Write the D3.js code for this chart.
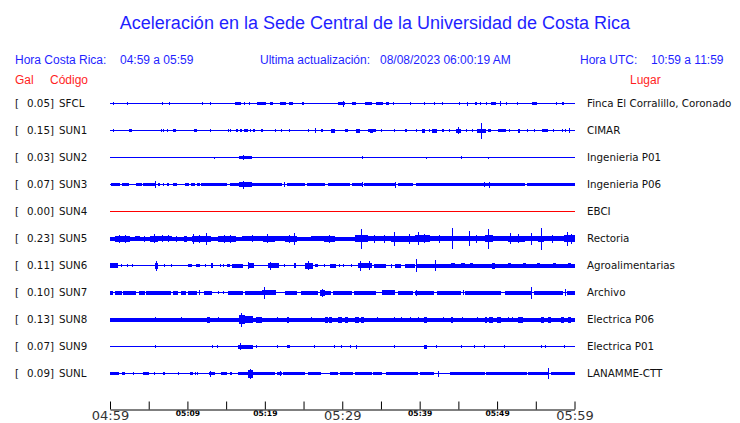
<!DOCTYPE html>
<html><head><meta charset="utf-8">
<script src="https://cdn.jsdelivr.net/npm/d3@7"></script>
<style>body{margin:0;background:#fff}svg{display:block}</style>
</head><body><svg id="c" width="740" height="423"></svg>
<script>
// ---- data ----
const codes = ["SFCL","SUN1","SUN2","SUN3","SUN4","SUN5","SUN6","SUN7","SUN8","SUN9","SUNL"];
const galValues = [0.05,0.15,0.03,0.07,0.00,0.23,0.11,0.10,0.13,0.07,0.09];
const places = ["Finca El Corralillo, Coronado","CIMAR","Ingenieria P01","Ingenieria P06","EBCI","Rectoria","Agroalimentarias","Archivo","Electrica P06","Electrica P01","LANAMME-CTT"];
const tickTimes = ["04:59","05:04","05:09","05:14","05:19","05:24","05:29","05:34","05:39","05:44","05:49","05:54","05:59"];
const tickLabels = ["04:59","","05:09","","05:19","","05:29","","05:39","","05:49","","05:59"];
const bigTickLabels = ["04:59","05:29","05:59"];
const headerLeft = ["Hora Costa Rica:","04:59 a 05:59"];
const headerMid = ["Ultima actualización:","08/08/2023 06:00:19 AM"];
const headerRight = ["Hora UTC:","10:59 a 11:59"];
// bursts per station: [start minute, end minute, peak-to-peak amplitude]
const sfcl = [[0.4,0.4,3],[2.2,2.2,3],[6.8,6.8,3],[7.7,7.7,3],[12.0,12.0,3],[13.0,13.0,3],[16.1,16.9,3],[17.3,17.5,3],[17.9,18.0,3],[19.0,20.1,3],[20.7,21.0,3],[22.0,22.7,3],[23.1,23.6,3],[24.8,25.1,3],[29.5,30.4,3],[30.2,30.2,6],[31.2,31.8,3],[32.9,33.8,3],[34.4,35.3,3],[35.7,36.0,3],[36.6,36.6,3],[38.8,38.8,3],[40.6,40.6,3],[41.8,42.0,3],[43.0,43.0,3],[45.2,45.2,3],[46.1,46.3,4],[47.1,47.4,3],[47.9,47.9,3],[48.6,48.6,3],[49.2,49.9,3],[50.5,50.5,5],[51.2,51.2,3],[52.7,52.7,3],[54.5,55.1,3],[57.7,57.7,3],[58.4,58.6,3]];
const sun1 = [[0.4,0.4,3],[2.4,2.8,3],[6.7,6.7,3],[6.9,6.9,3],[7.4,7.4,3],[8.2,8.5,3],[10.9,11.3,3],[13.0,13.0,3],[15.3,15.3,3],[15.6,15.6,3],[16.3,16.5,3],[16.8,17.0,3],[17.3,17.8,3],[18.1,18.1,3],[18.5,18.7,3],[19.5,19.8,3],[21.4,21.4,3],[22.1,22.1,3],[23.2,23.2,3],[25.7,25.7,3],[26.5,26.5,5],[27.3,27.5,3],[28.5,29.0,4],[30.4,30.7,3],[31.8,32.3,4],[33.3,34.4,3],[33.6,34.0,4],[35.1,35.1,3],[36.8,36.8,3],[38.1,38.4,3],[39.6,39.6,3],[40.3,40.7,4],[41.3,41.3,3],[41.6,42.3,4],[42.9,43.1,3],[43.9,43.9,3],[44.7,45.4,4],[45.0,45.0,7],[46.1,46.1,3],[46.8,46.8,3],[47.4,48.6,4],[48.0,48.0,16],[48.8,49.2,3],[50.1,51.2,3],[51.6,51.6,3],[52.7,53.0,4],[53.9,53.9,3],[54.8,54.8,3],[55.8,56.6,3],[57.2,57.4,3],[58.4,58.4,3],[58.9,58.9,3],[59.4,59.4,5]];
const sun2 = [[13.5,13.5,2],[16.6,18.4,3],[17.3,17.3,5],[32.6,32.6,3],[40.9,40.9,2],[45.4,45.4,3],[48.9,48.9,2]];
const sun3 = [[0.1,1.3,3],[1.6,1.9,3],[2.0,2.5,3],[3.3,4.1,3],[4.3,5.9,3],[5.9,5.9,7],[6.2,6.4,3],[6.8,7.0,3],[7.4,7.6,3],[8.2,8.7,3],[9.7,10.2,3],[10.5,11.0,3],[11.3,11.6,3],[11.8,15.1,3],[15.5,22.2,3],[16.6,18.3,5],[17.3,17.3,8],[22.6,22.6,5],[22.8,25.2,3],[25.4,27.8,3],[28.1,31.0,3],[31.3,32.5,3],[32.6,32.6,5],[32.8,36.8,3],[36.9,36.9,6],[37.2,39.1,3],[39.5,53.6,3],[48.4,48.4,5],[49.0,49.0,6],[53.9,60,3]];
const sun4 = [];
const sun5 = [[0,0.65,4],[0.65,2.6,6],[1.2,1.2,8],[2.0,2.0,8],[2.6,3.2,4],[3.2,3.9,5],[3.9,5.2,4],[4.5,4.5,6],[5.2,6.2,6],[5.8,5.8,9],[6.2,8.0,5],[6.8,6.8,7],[7.5,7.5,7],[8.0,9.5,4],[8.6,8.6,6],[9.5,10.0,6],[10.0,10.6,4],[10.75,10.75,10],[10.6,13.1,6],[11.5,11.5,8],[12.5,12.5,12],[13.1,14.0,4],[14.0,16.3,6],[14.8,14.8,8],[15.6,15.6,8],[16.3,17.0,4],[17.0,19.8,5],[18.4,18.4,7],[19.8,21.3,6],[20.4,20.4,9],[21.3,22.6,5],[22.6,24.1,6],[23.2,23.2,8],[23.8,23.8,12],[24.1,26.0,4],[26.0,27.7,5],[27.7,29.0,6],[28.3,28.3,8],[29.0,31.6,4],[31.6,33.3,7],[32.5,32.5,20],[33.3,36.3,5],[34.2,34.2,8],[35.4,35.4,8],[36.3,37.2,6],[36.8,36.8,14],[37.2,39.4,6],[38.7,38.7,10],[39.4,41.3,7],[39.8,39.8,13],[40.6,40.6,9],[41.3,44.1,5],[42.5,42.5,8],[44.3,44.3,21],[44.1,46.2,5],[46.4,46.4,15],[46.2,48.4,5],[47.3,47.3,8],[48.4,49.5,7],[48.95,48.95,20],[49.5,51.4,5],[51.4,53.6,6],[51.7,51.7,11],[52.8,52.8,9],[53.6,55.3,5],[54.4,54.4,12],[55.3,56.1,6],[55.7,55.7,22],[56.1,58.7,5],[57.2,57.2,8],[58.7,60,7],[59.05,59.05,14],[59.6,59.6,10]];
const sun6 = [[0,1.0,5],[1.5,1.5,3],[2.2,2.2,3],[2.9,2.9,3],[5.8,6.2,6],[6.06,6.06,10],[7.0,7.0,3],[8.0,8.0,3],[10.1,10.6,3],[11.05,11.6,3],[12.3,12.3,3],[13.0,13.3,5],[14.3,14.3,3],[14.6,14.6,3],[15.1,15.5,3],[15.7,17.2,4],[17.8,18.6,5],[17.9,17.9,7],[20.4,21.8,5],[20.7,20.7,8],[22.6,22.6,3],[23.8,24.0,5],[25.2,26.2,6],[25.7,25.7,9],[26.5,26.9,3],[27.7,27.7,3],[28.4,29.2,4],[29.7,29.7,3],[30.2,30.2,3],[31.2,31.2,3],[32.0,33.8,5],[32.3,32.3,10],[33.5,33.5,9],[34.1,35.7,4],[36.3,36.3,4],[36.8,37.6,4],[38.1,39.4,4],[39.6,39.6,13],[39.5,42.0,4],[42.0,42.0,11],[42.1,60,4],[44.1,44.5,5],[45.4,45.8,5],[46.5,46.9,5],[49.3,49.7,6],[51.4,51.8,5],[53.3,53.7,5],[55.1,55.5,5],[57.2,57.6,5],[59.2,59.6,5]];
const sun7 = [[0,0.4,4],[0.6,1.5,4],[1.7,3.4,4],[3.7,4.5,4],[4.7,7.9,4],[8.2,8.8,4],[9.2,9.8,4],[10.1,11.2,4],[11.6,11.6,5],[12.2,13.2,4],[14.0,14.1,3],[14.6,14.7,3],[15.3,17.2,4],[17.4,19.6,4],[19.6,21.4,5],[19.9,19.9,12],[22.6,24.2,4],[24.7,26.9,4],[27.1,27.8,6],[27.4,27.4,8],[27.8,28.6,4],[28.8,31.2,4],[31.5,34.4,4],[35.1,36.8,5],[37.2,39.1,4],[39.4,41.9,4],[39.6,39.6,6],[42.2,45.4,4],[45.6,45.6,5],[45.8,50.5,4],[51.0,54.4,4],[54.5,54.5,12],[54.8,58.5,4],[58.8,58.8,7],[59.0,60,4]];
const sun8 = [[0,60,4],[5.9,5.9,5],[9.2,9.2,5],[12.5,12.9,6],[14.0,14.0,5],[16.6,17.4,9],[17.0,17.0,14],[17.4,18.5,7],[18.9,19.6,6],[21.7,21.7,5],[22.8,23.1,6],[26.0,26.0,5],[27.8,28.1,6],[28.3,28.7,6],[29.5,30.0,6],[30.3,30.7,6],[31.7,32.1,6],[32.4,32.8,6],[34.6,34.6,5],[36.7,36.7,5],[37.6,37.6,5],[38.8,38.8,5],[39.8,39.8,5],[40.6,40.9,6],[43.1,43.1,5],[44.1,44.3,6],[45.5,45.5,5],[47.5,47.5,5],[48.4,48.7,6],[49.0,49.5,6],[50.0,50.5,6],[51.5,51.5,5],[52.0,52.0,5],[52.7,53.3,6],[55.7,56.0,6],[56.6,57.0,6],[58.3,58.7,6],[59.1,59.5,6]];
const sun9 = [[5.9,5.9,3],[13.2,13.2,3],[13.9,13.9,3],[16.5,18.5,4],[16.8,16.8,7],[18.9,18.9,3],[21.7,21.7,3],[22.9,23.2,3],[26.4,26.4,3],[29.0,29.0,3],[29.9,29.9,3],[31.1,31.1,3],[31.8,31.8,4],[36.7,36.7,3],[40.6,40.9,4],[42.2,42.2,3],[45.4,45.4,3],[47.1,47.1,3],[48.4,48.4,3],[51.0,51.0,3],[55.7,55.7,3],[56.3,56.3,3],[58.7,58.7,3]];
const sunl = [[0,1.1,3],[1.5,1.9,3],[3.1,3.1,3],[4.2,5.0,3],[5.8,5.8,3],[6.8,7.1,3],[8.9,8.9,3],[10.3,10.7,3],[11.0,11.0,3],[11.3,11.3,3],[12.8,13.6,3],[13.0,13.0,6],[14.3,15.1,3],[15.5,15.8,3],[16.5,21.3,3],[17.8,18.5,8],[18.1,18.1,10],[21.6,22.2,3],[22.0,22.0,5],[22.4,25.2,3],[25.6,27.3,3],[28.4,29.5,3],[29.7,31.4,3],[31.6,33.8,3],[34.0,35.1,3],[35.7,39.8,3],[40.0,41.9,3],[42.4,42.4,6],[43.9,48.4,3],[48.6,53.8,3],[54.0,56.6,3],[56.7,56.7,11],[57.0,60,3]];
const traces = [sfcl,sun1,sun2,sun3,sun4,sun5,sun6,sun7,sun8,sun9,sunl];
const traceColors = codes.map(c => c === "SUN4" ? "#ff0000" : "#0000ff");

// ---- drawing ----
const svg = d3.select("#c");
const BLUE = "#1f1fff", RED = "#ff1f1f";
const parse = d3.timeParse("%H:%M");
const t0 = parse(tickTimes[0]);
const x = d3.scaleTime().domain([t0, parse(tickTimes[tickTimes.length-1])]).range([110, 574.5]);
const xm = m => x(new Date(t0.getTime() + m * 60000));
const y = d3.scalePoint().domain(codes).range([103.5, 373.5]);
const amp = d3.scaleLinear().domain([0, 20]).range([0, 20]);

svg.append("text").attr("x", 375).attr("y", 29).attr("text-anchor","middle")
  .attr("font-family","Liberation Sans, Arial, sans-serif").attr("font-size",18).attr("fill",BLUE)
  .text("Aceleración en la Sede Central de la Universidad de Costa Rica");

const hdr = svg.append("g").attr("font-family","Liberation Sans, Arial, sans-serif").attr("font-size",12);
[[15,headerLeft[0]],[120,headerLeft[1]],[260,headerMid[0]],[380,headerMid[1]],[580,headerRight[0]],[651,headerRight[1]]]
  .forEach(([px,t]) => hdr.append("text").attr("x",px).attr("y",64).attr("fill",BLUE).text(t));
[[15,"Gal"],[50,"Código"],[630,"Lugar"]]
  .forEach(([px,t]) => hdr.append("text").attr("x",px).attr("y",84).attr("fill",RED).text(t));

const lab = svg.append("g").attr("font-family","DejaVu Sans, sans-serif").attr("font-size",10.3).attr("fill","#111");
codes.forEach((c,i) => {
  lab.append("text").attr("x",15).attr("y",y(c)).attr("dy","0.36em").text("[");
  lab.append("text").attr("x",54).attr("y",y(c)).attr("dy","0.36em").attr("text-anchor","end").text(galValues[i].toFixed(2)+"]");
  lab.append("text").attr("x",59).attr("y",y(c)).attr("dy","0.36em").text(c);
  lab.append("text").attr("x",587).attr("y",y(c)).attr("dy","0.36em").text(places[i]);
});

const tr = svg.append("g").attr("shape-rendering","crispEdges");
codes.forEach((c,i) => {
  const g = tr.append("g");
  const cy = y(c);
  g.append("path").attr("d", d3.line()([[xm(0),cy],[xm(60),cy]]))
    .attr("stroke", traceColors[i]).attr("stroke-width",1).attr("fill","none");
  g.selectAll("rect").data(traces[i]).join("rect")
    .attr("x", d => xm(d[0]) - (d[1]===d[0] ? 0.5 : 0))
    .attr("width", d => Math.max(1, xm(d[1]) - xm(d[0])))
    .attr("y", d => cy - amp(d[2])/2)
    .attr("height", d => amp(d[2]))
    .attr("fill", traceColors[i]);
});

const ax = d3.axisBottom(x).tickValues(tickTimes.map(parse))
  .tickSizeInner(-8).tickSizeOuter(0).tickPadding(1)
  .tickFormat((d,i) => tickLabels[i]);
const axg = svg.append("g").attr("transform","translate(0,409.5)").call(ax);
axg.select(".domain").attr("stroke","#000");
axg.selectAll(".tick line").attr("stroke","#000");
axg.selectAll(".tick text")
  .attr("font-family","DejaVu Sans, sans-serif")
  .attr("fill", (d,i) => bigTickLabels.includes(tickLabels[i]) ? "#333" : "#000")
  .attr("font-weight", (d,i) => bigTickLabels.includes(tickLabels[i]) ? "normal" : "bold")
  .attr("font-size", (d,i) => bigTickLabels.includes(tickLabels[i]) ? 13 : 7.6);
</script></body></html>
